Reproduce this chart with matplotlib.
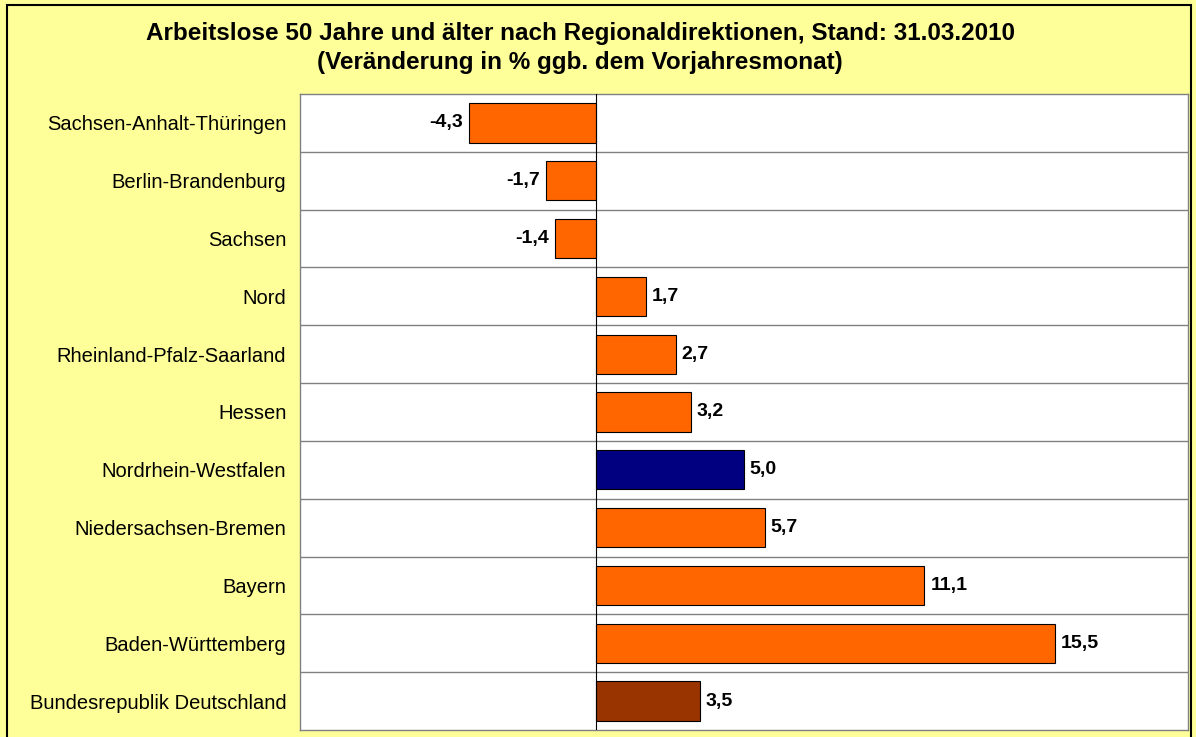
import matplotlib
matplotlib.use("Agg")
import matplotlib.pyplot as plt
from matplotlib.patches import Rectangle

regions = ["Sachsen-Anhalt-Thüringen", "Berlin-Brandenburg", "Sachsen", "Nord",
           "Rheinland-Pfalz-Saarland", "Hessen", "Nordrhein-Westfalen",
           "Niedersachsen-Bremen", "Bayern", "Baden-Württemberg",
           "Bundesrepublik Deutschland"]
change = [-4.3, -1.7, -1.4, 1.7, 2.7, 3.2, 5.0, 5.7, 11.1, 15.5, 3.5]
colors = ["#FF6600"] * 6 + ["#000080"] + ["#FF6600"] * 3 + ["#993300"]

plt.rcParams['font.family'] = ['Liberation Sans', 'DejaVu Sans']

fig = plt.figure(figsize=(11.96, 7.37), dpi=100, facecolor="#FFFF99")
# outer frame
fig.patches.append(Rectangle((0.006, -0.01), 0.99, 1.003, transform=fig.transFigure,
                             fill=False, edgecolor="black", linewidth=1.5))

ax = fig.add_axes([0.251, 0.0095, 0.742, 0.863])
ax.set_facecolor("white")

y = list(range(len(regions)))
ax.barh(y, change, height=0.68, color=colors, edgecolor="black", linewidth=0.8, zorder=3)

ax.set_xlim(-10, 20)
ax.set_ylim(len(regions) - 0.5, -0.5)
ax.axvline(0, color="black", linewidth=0.8, zorder=4)
for i in range(1, len(regions)):
    ax.axhline(i - 0.5, color="#808080", linewidth=1, zorder=1)

for yi, v in zip(y, change):
    txt = f"{v:.1f}".replace(".", ",")
    if v < 0:
        ax.text(v - 0.2, yi, txt, ha="right", va="center", fontsize=14,
                fontweight="bold", zorder=5)
    else:
        ax.text(v + 0.2, yi, txt, ha="left", va="center", fontsize=14,
                fontweight="bold", zorder=5)

ax.set_xticks([])
ax.set_yticks(y)
ax.set_yticklabels(regions, fontsize=14.5)
ax.tick_params(axis="y", length=0, pad=10)
for s in ax.spines.values():
    s.set_color("#808080")
    s.set_linewidth(1)

fig.text(0.485, 0.955, "Arbeitslose 50 Jahre und älter nach Regionaldirektionen, Stand: 31.03.2010",
         ha="center", va="center", fontsize=17.5, fontweight="bold")
fig.text(0.485, 0.915, "(Veränderung in % ggb. dem Vorjahresmonat)",
         ha="center", va="center", fontsize=17.5, fontweight="bold")

fig.savefig("out.png", dpi=100, facecolor=fig.get_facecolor())
